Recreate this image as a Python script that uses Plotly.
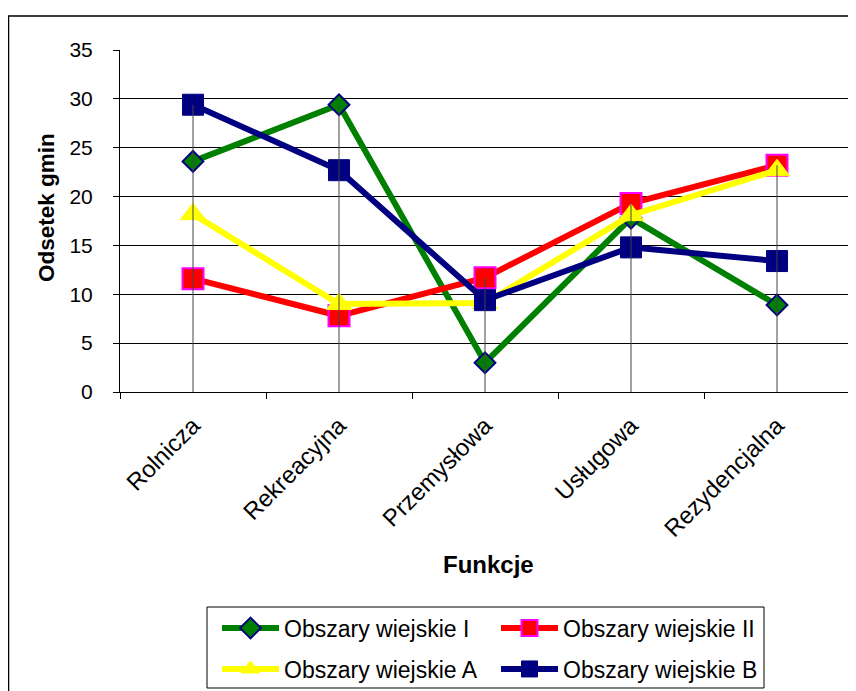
import plotly.graph_objects as go

categories = ["Rolnicza", "Rekreacyjna", "Przemysłowa", "Usługowa", "Rezydencjalna"]
series_names = ["Obszary wiejskie I", "Obszary wiejskie II", "Obszary wiejskie A", "Obszary wiejskie B"]
wiejskie_I = [23.6, 29.4, 3.0, 17.8, 8.9]
wiejskie_II = [11.6, 7.8, 11.7, 19.3, 23.2]
wiejskie_A = [18.2, 9.0, 9.1, 18.1, 22.7]
wiejskie_B = [29.4, 22.7, 9.4, 14.8, 13.4]
y_ticks = [0, 5, 10, 15, 20, 25, 30, 35]

FONT = "Liberation Sans, Arial, sans-serif"

# page has an 8px body margin; screen coords = figure coords + 8
OFF = 8
W, H = 848, 683
L, R, T, B = 112, 6, 42, 299
pw, ph = W - L - R, H - T - B

def px_x(p):
    return (p - OFF - L) / pw

def px_y(p):
    return (H - B - (p - OFF)) / ph

fig = go.Figure()

styles = [
    (wiejskie_I, dict(color="#008000", width=6), dict(symbol="diamond", size=16, color="#008000", line=dict(color="#000080", width=2)), "legend"),
    (wiejskie_II, dict(color="#FF0000", width=6), dict(symbol="square", size=21, color="#FF0000", line=dict(color="#FF00FF", width=2)), "legend"),
    (wiejskie_A, dict(color="#FFFF00", width=6), dict(symbol="triangle-up", size=22, color="#FFFF00", line=dict(color="#FFFF00", width=1)), "legend2"),
    (wiejskie_B, dict(color="#000080", width=6), dict(symbol="square", size=21, color="#000080", line=dict(color="#000080", width=1)), "legend2"),
]
for name, (vals, ln, mk, lg) in zip(series_names, styles):
    fig.add_trace(go.Scatter(x=categories, y=vals, name=name, mode="lines+markers",
                             line=ln, marker=mk, legend=lg))

# drop lines from highest value to axis
dx, dy = [], []
all_series = [wiejskie_I, wiejskie_II, wiejskie_A, wiejskie_B]
for i, c in enumerate(categories):
    dx += [c, c, None]
    dy += [max(s[i] for s in all_series), 0, None]
fig.add_trace(go.Scatter(x=dx, y=dy, mode="lines", line=dict(color="#444444", width=1),
                         showlegend=False, hoverinfo="skip"))

# chart area border
fig.add_shape(type="rect", xref="paper", yref="paper",
              x0=px_x(8.5), x1=px_x(900), y0=px_y(16), y1=px_y(760),
              line=dict(color="black", width=1.5), fillcolor="rgba(0,0,0,0)", layer="below")
# legend border
fig.add_shape(type="rect", xref="paper", yref="paper",
              x0=px_x(207), x1=px_x(764), y0=px_y(607), y1=px_y(688),
              line=dict(color="black", width=1), fillcolor="white", layer="below")

fig.add_annotation(text="<b>Odsetek gmin</b>", xref="paper", yref="paper",
                   x=px_x(46), y=px_y(208), textangle=-90, showarrow=False,
                   xanchor="center", yanchor="middle", font=dict(size=22.5))
fig.add_annotation(text="<b>Funkcje</b>", xref="paper", yref="paper",
                   x=px_x(488), y=px_y(564), showarrow=False,
                   xanchor="center", yanchor="middle", font=dict(size=24))

legend_common = dict(orientation="h", xanchor="left", yanchor="middle",
                     entrywidth=207, entrywidthmode="pixels", itemwidth=57,
                     borderwidth=0, bgcolor="rgba(0,0,0,0)", font=dict(size=23))

fig.update_layout(
    width=W, height=H,
    margin=dict(l=L, r=R, t=T, b=B, autoexpand=False),
    paper_bgcolor="white", plot_bgcolor="white",
    font=dict(family=FONT, size=20, color="black"),
    xaxis=dict(
        type="category", range=[-0.5, 4.5],
        showline=True, linecolor="black", linewidth=1,
        ticks="outside", ticklen=6, tickcolor="black", tickson="boundaries",
        tickangle=-45, showgrid=False, automargin=False,
        tickfont=dict(size=24), ticklabelstandoff=9,
    ),
    yaxis=dict(
        range=[0, 35], tickvals=y_ticks,
        showline=True, linecolor="black", linewidth=1,
        ticks="outside", ticklen=6, tickcolor="black",
        showgrid=True, gridcolor="black", gridwidth=1,
        zeroline=False, automargin=False,
        tickfont=dict(size=21), ticklabelstandoff=16,
    ),
    legend=dict(x=px_x(217), y=px_y(628), **legend_common),
    legend2=dict(x=px_x(217), y=px_y(669), **legend_common),
    showlegend=True,
)

fig.write_html("out.html")
